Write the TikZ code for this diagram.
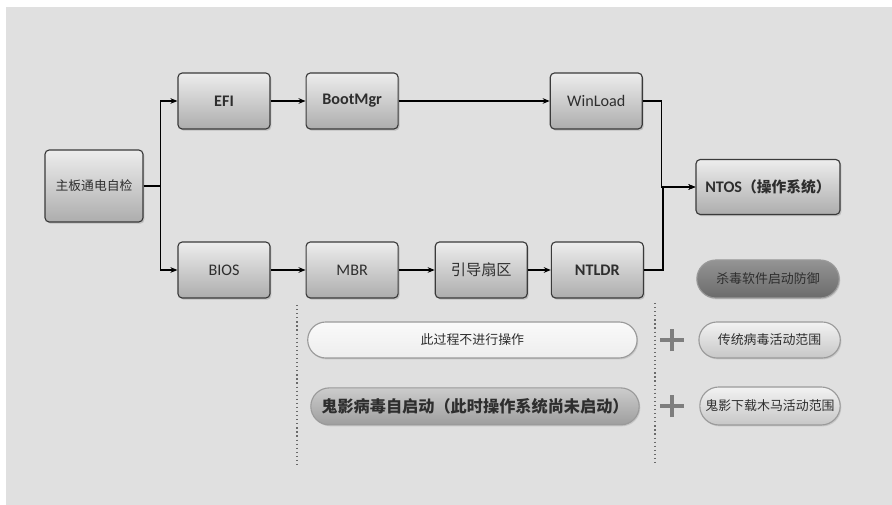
\documentclass[tikz,border=0pt]{standalone}
\usepackage{fontspec}
\setmainfont{Carlito}
\newfontfamily\cjk{Noto Sans CJK SC}
\usetikzlibrary{arrows.meta, positioning, shapes.misc, shadows, calc}
\definecolor{bggray}{HTML}{E0E0E0}
\definecolor{boxline}{HTML}{3A3A3A}
\definecolor{boxtop}{HTML}{EDEDED}
\definecolor{boxbot}{HTML}{ADADAD}
\definecolor{textgray}{HTML}{2E2E2E}
\definecolor{pillline}{HTML}{9A9A9A}
\definecolor{plusgray}{HTML}{7E7E7E}
\definecolor{dotgray}{HTML}{6A6A6A}

\begin{document}
\begin{tikzpicture}[font=\fontsize{11.5}{13}\selectfont, >={Stealth[length=5pt,width=4pt]}, node distance=0.875cm,
    stage/.style={draw=boxline, line width=0.8pt, rounded corners=3pt, top color=boxtop, bottom color=boxbot,
        minimum width=2.3cm, minimum height=1.4cm, text=textgray,
        drop shadow={opacity=0.35, shadow xshift=1pt, shadow yshift=-1.2pt}},
    pill/.style={rounded rectangle, draw=pillline, line width=0.8pt, minimum height=0.9cm, text=textgray,
        inner xsep=2pt, font=\cjk\fontsize{9.2}{11}\selectfont,
        drop shadow={opacity=0.25, shadow xshift=0.8pt, shadow yshift=-1pt}},
    plusbar/.style={line width=3.5pt, draw=plusgray},
    sep/.style={dotted, line width=0.9pt, draw=dotgray}]
    \useasboundingbox (0,0) rectangle (22.3,-12.625);
    \fill[bggray] (0.15,-0.175) rectangle (22.3,-12.625);

    % boot chain
    \node[stage, minimum width=2.45cm, minimum height=1.8cm, font=\cjk\fontsize{9.1}{11}\selectfont] (post) at (2.35,-4.65) {主板通电自检};
    \node[stage, font=\fontsize{11.5}{13}\selectfont\bfseries] (efi) at (5.6,-2.525) {EFI};
    \node[stage, font=\fontsize{11.5}{13}\selectfont\bfseries, right=of efi] (bootmgr) {BootMgr};
    \node[stage, right=3.775cm of bootmgr] (winload) {WinLoad};
    \node[stage] (bios) at (5.6,-6.75) {BIOS};
    \node[stage, right=of bios] (mbr) {MBR};
    \node[stage, right=0.9cm of mbr, font=\cjk\fontsize{10.8}{12}\selectfont] (vbr) {引导扇区};
    \node[stage, right=0.575cm of vbr, font=\fontsize{11.5}{13}\selectfont\bfseries] (ntldr) {NTLDR};
    \node[stage, minimum width=3.6cm, minimum height=1.375cm] (ntos) at (19.2,-4.675)
        {\bfseries NTOS{\cjk\fontsize{10.5}{12}\selectfont （操作系统）}};

    \draw[->, line width=0.8pt] (post.east) -- ++(0.425,0) |- (efi.west);
    \draw[->, line width=0.8pt] (post.east) -- ++(0.425,0) |- (bios.west);
    \draw[->, line width=0.8pt] (efi) -- (bootmgr);
    \draw[->, line width=0.8pt] (bootmgr) -- (winload);
    \draw[->, line width=0.8pt] (bios) -- (mbr);
    \draw[->, line width=0.8pt] (mbr) -- (vbr);
    \draw[->, line width=0.8pt] (vbr) -- (ntldr);
    \draw[->, line width=0.8pt] (winload.east) -- ++(0.475,0) |- (ntos.west);
    \draw[->, line width=0.8pt] (ntldr.east) -- ++(0.475,0) |- (ntos.west);

    % legend pills
    \node[pill, minimum width=3.7cm, minimum height=0.95cm, top color=black!42, bottom color=black!58] (avdef) at (19.2,-6.975) {杀毒软件启动防御};
    \node[pill, minimum width=8.375cm, top color=white!98!black, bottom color=black!7] (noop) at (11.81,-8.5) {此过程不进行操作};
    \node[pill, minimum width=8.35cm, minimum height=0.925cm, top color=black!20, bottom color=black!38,
        font=\cjk\fontsize{11.5}{13}\selectfont\bfseries] (ghost) at (11.875,-10.16) {鬼影病毒自启动（此时操作系统尚未启动）};
    \node[pill, minimum width=3.675cm, top color=black!5, bottom color=black!22] (oldvir) at (19.24,-8.5) {传统病毒活动范围};
    \node[pill, minimum width=3.65cm, minimum height=0.95cm, top color=black!5, bottom color=black!22] (trojan) at (19.25,-10.15) {鬼影下载木马活动范围};

    \coordinate (plusa) at (16.8,-8.5);
    \coordinate (plusb) at (16.8,-10.15);
    \draw[plusbar] ($(plusa)+(-0.29,0)$) -- ($(plusa)+(0.29,0)$) ($(plusa)+(0,-0.28)$) -- ($(plusa)+(0,0.28)$);
    \draw[plusbar] ($(plusb)+(-0.29,0)$) -- ($(plusb)+(0.29,0)$) ($(plusb)+(0,-0.28)$) -- ($(plusb)+(0,0.28)$);

    \draw[sep] (7.425,-7.625) -- (7.425,-11.7);
    \draw[sep] (16.375,-7.575) -- (16.375,-11.625);
\end{tikzpicture}
\end{document}
